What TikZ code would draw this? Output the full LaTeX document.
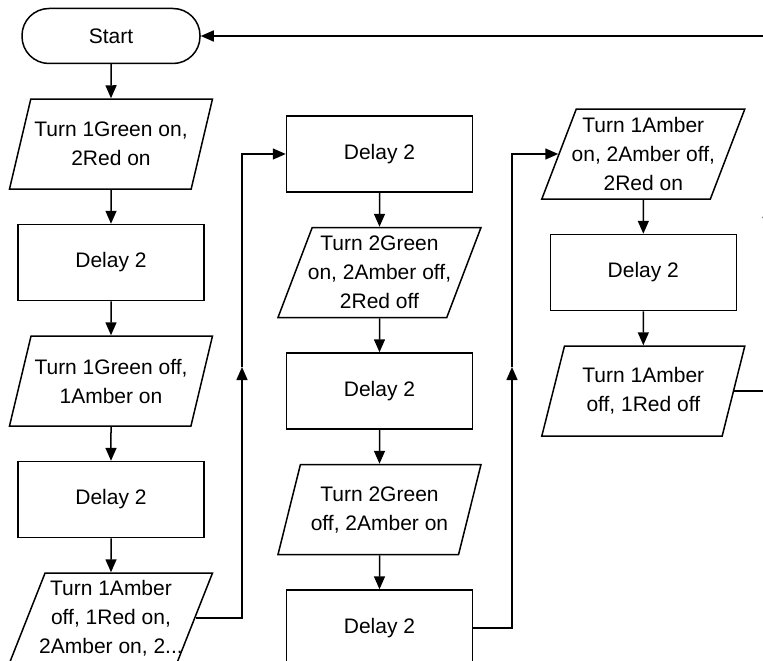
\documentclass[tikz,border=0pt]{standalone}
\usepackage{fontspec}
\setmainfont{Liberation Sans}
\usepackage{tikz}
\usetikzlibrary{shapes.geometric, arrows.meta, positioning}

\begin{document}
\begin{tikzpicture}[x=1pt, y=1pt, node distance=34pt,
    every node/.style={font=\fontsize{21}{29}\selectfont, line width=1.5pt, align=center},
    term/.style={draw, rectangle, rounded corners=27pt, minimum width=178pt, minimum height=55pt},
    proc/.style={draw, rectangle, minimum width=186pt, minimum height=76pt},
    io/.style={draw, trapezium, trapezium left angle=66, trapezium right angle=114,
        trapezium stretches body, minimum width=203pt, minimum height=90pt,
        inner xsep=-12pt, inner ysep=2pt},
    flow/.style={line width=1.5pt, -{Triangle[length=13pt, width=11pt]}}]
    \useasboundingbox (0,0) rectangle (763,-661);

    \node[term] (start) at (111,-36) {Start};
    \node[io, below=of start] (g1on) {Turn 1Green on,\\2Red on};
    \node[proc, below=of g1on] (wait1) {Delay 2};
    \node[io, below=of wait1] (g1off) {Turn 1Green off,\\1Amber on};
    \node[proc, below=of g1off] (wait2) {Delay 2};
    \node[io, below=of wait2] (r1on) {Turn 1Amber\\off, 1Red on,\\2Amber on, 2...};

    \node[proc, below right=51pt and 85pt of start] (wait3) {Delay 2};
    \node[io, below=of wait3] (g2on) {Turn 2Green\\on, 2Amber off,\\2Red off};
    \node[proc, below=of g2on] (wait4) {Delay 2};
    \node[io, below=of wait4] (g2off) {Turn 2Green\\off, 2Amber on};
    \node[proc, below=of g2off] (wait5) {Delay 2};

    \node[io, right=85pt of wait3] (a1on) {Turn 1Amber\\on, 2Amber off,\\2Red on};
    \node[proc, below=of a1on] (wait6) {Delay 2};
    \node[io, below=of wait6] (a1off) {Turn 1Amber\\off, 1Red off};

    \coordinate (up1) at (242,-367);
    \coordinate (up2) at (512,-367);
    \coordinate (back) at (768,-205);

    \draw[flow] (start) -- (g1on);
    \draw[flow] (g1on) -- (wait1);
    \draw[flow] (wait1) -- (g1off);
    \draw[flow] (g1off) -- (wait2);
    \draw[flow] (wait2) -- (r1on);
    \draw[flow] (r1on.east) -| (up1);
    \draw[flow] (up1) |- (wait3);

    \draw[flow] (wait3) -- (g2on);
    \draw[flow] (g2on) -- (wait4);
    \draw[flow] (wait4) -- (g2off);
    \draw[flow] (g2off) -- (wait5);
    \draw[flow] (wait5.east) -| (up2);
    \draw[flow] (up2) |- (a1on);

    \draw[flow] (a1on) -- (wait6);
    \draw[flow] (wait6) -- (a1off);
    \draw[flow] (a1off.east) -| (back);
    \draw[flow] (back) |- (start);
\end{tikzpicture}
\end{document}
